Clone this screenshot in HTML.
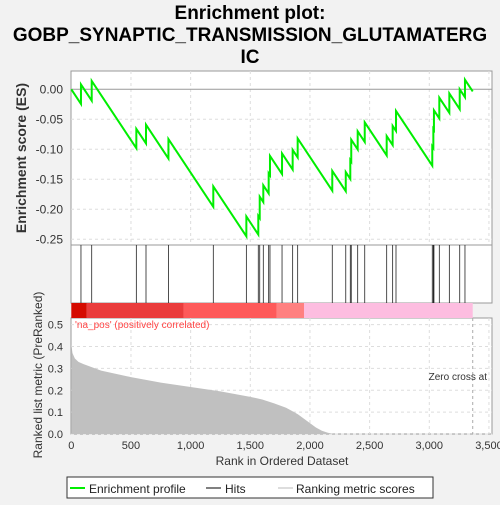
<!DOCTYPE html>
<html><head><meta charset="utf-8"><style>
body{margin:0;background:#f2f2f2;}
svg text{font-family:"Liberation Sans","DejaVu Sans",sans-serif;}
</style></head><body>
<svg id="c" width="500" height="500" viewBox="0 0 500 500" xmlns="http://www.w3.org/2000/svg">
<rect x="0" y="0" width="500" height="500" fill="#f2f2f2"/>
<text x="250" y="19" text-anchor="middle" font-size="19" font-weight="bold" fill="#000">Enrichment plot:</text>
<text x="250" y="41" text-anchor="middle" font-size="19" font-weight="bold" fill="#000">GOBP_SYNAPTIC_TRANSMISSION_GLUTAMATERG</text>
<text x="250" y="63" text-anchor="middle" font-size="19" font-weight="bold" fill="#000">IC</text>
<g id="g"></g>
</svg>
<script>
const hitRanks=[81,171,545,626,814,1190,1467,1567,1579,1609,1654,1665,1766,1855,1897,2187,2300,2338,2346,2400,2459,2643,2693,2721,3025,3034,3039,3084,3168,3255,3299];
const esPeaks=[0.008,0.014,-0.066,-0.059,-0.083,-0.162,-0.212,-0.211,-0.179,-0.160,-0.140,-0.111,-0.107,-0.101,-0.082,-0.136,-0.138,-0.118,-0.084,-0.070,-0.055,-0.078,-0.061,-0.036,-0.095,-0.066,-0.035,-0.014,-0.007,0.000,0.016];
const nGenes=3364;
const metricRanks=[0,10,30,60,100,250,500,750,1000,1250,1500,1600,1700,1800,1850,1900,1950,2000,2050,2100,2150,2200,3364];
const metricVals=[0.41,0.37,0.345,0.33,0.32,0.29,0.26,0.235,0.215,0.195,0.17,0.158,0.14,0.12,0.105,0.09,0.07,0.05,0.03,0.015,0.006,0.0,0.0];
const xTicks=[0,500,1000,1500,2000,2500,3000,3500];
const xTickLabels=["0","500","1,000","1,500","2,000","2,500","3,000","3,500"];
const esTicks=[0,-0.05,-0.1,-0.15,-0.2,-0.25];
const esTickLabels=["0.00","-0.05","-0.10","-0.15","-0.20","-0.25"];
const mTicks=[0,0.1,0.2,0.3,0.4,0.5];
const mTickLabels=["0.0","0.1","0.2","0.3","0.4","0.5"];
const slope=0.0003;

const L=71,R=492;
const X=r=>71.3+r*0.11933;
const YE=v=>89.3-v*600;
const YM=v=>434-v*218.7;
const g=document.getElementById('g');
const NS='http://www.w3.org/2000/svg';
function mk(t,a,p){const e=document.createElementNS(NS,t);for(const k in a)e.setAttribute(k,a[k]);(p||g).appendChild(e);return e;}

// panels
let p1=mk('rect',{x:L,y:71,width:R-L,height:174,fill:'#fff',stroke:'#999'});


let p2=mk('rect',{x:L,y:245,width:R-L,height:58,fill:'#fff',stroke:'#999'});


let p3=mk('rect',{x:L,y:318,width:R-L,height:116,fill:'#fff',stroke:'#999'});



// grids
xTicks.forEach((t,i)=>{
 const x=X(t);
 if(i>0){
 let l=mk('line',{x1:x,y1:71,x2:x,y2:245,stroke:'#ddd','stroke-dasharray':'3,3'});
 
 
 let l2=mk('line',{x1:x,y1:318,x2:x,y2:434,stroke:'#ddd','stroke-dasharray':'3,3'});
 
 
 }
 let tk=mk('text',{x:x,y:449,'text-anchor':'middle','font-size':11,fill:'#333'});
 tk.textContent=xTickLabels[i];
 
 
});
esTicks.forEach((t,i)=>{
 const y=YE(t);
 let l=mk('line',{x1:L,y1:y,x2:R,y2:y,stroke:t===0?'#999':'#ddd','stroke-dasharray':t===0?'':'3,3'});
 
 
 let tk=mk('text',{x:63,y:y+4,'text-anchor':'end','font-size':12,fill:'#333'});
 tk.textContent=esTickLabels[i];
 
 
});
mTicks.forEach((t,i)=>{
 const y=YM(t);
 let l=mk('line',{x1:L,y1:y,x2:R,y2:y,stroke:'#ddd','stroke-dasharray':'3,3'});
 
 
 let tk=mk('text',{x:63,y:y+4,'text-anchor':'end','font-size':11,fill:'#333'});
 tk.textContent=mTickLabels[i];
 
 
});

// metric area
let d='M'+X(0)+','+YM(0);
metricRanks.forEach((r,i)=>{d+=' L'+X(r)+','+YM(metricVals[i]);});
d+=' L'+X(nGenes)+','+YM(0)+' Z';
let area=mk('path',{d:d,fill:'#c0c0c0'});


let zc=mk('line',{x1:X(nGenes),y1:318,x2:X(nGenes),y2:434,stroke:'#aaa','stroke-dasharray':'3,3'});


let zt=mk('text',{x:487,y:380,'text-anchor':'end','font-size':10,fill:'#333'});
zt.textContent='Zero cross at';



// colour bar
const segs=[[0,130,'#d50b00'],[130,940,'#ea3c3c'],[940,1720,'#fe5a5a'],[1720,1950,'#ff8080'],[1950,nGenes,'#fdbde0']];
segs.forEach(s=>{
 let r=mk('rect',{x:X(s[0]),y:303,width:X(s[1])-X(s[0]),height:15,fill:s[2]});
 
 
});
let np=mk('text',{x:75,y:328,'font-size':10,fill:'#f44'});
np.textContent="'na_pos' (positively correlated)";



// hits
hitRanks.forEach(r=>{
 let l=mk('line',{x1:X(r),y1:245,x2:X(r),y2:303,stroke:'#222','stroke-width':0.8});
 
 
});

// ES line
let pts=[[0,0]];let prevR=0,prevE=0;
hitRanks.forEach((r,i)=>{const tr=prevE-slope*(r-prevR);pts.push([r,tr]);pts.push([r,esPeaks[i]]);prevR=r;prevE=esPeaks[i];});
pts.push([nGenes,prevE-slope*(nGenes-prevR)]);
let es=mk('polyline',{points:pts.map(p=>X(p[0])+','+YE(p[1])).join(' '),fill:'none',stroke:'#00ee00','stroke-width':2});



// axis titles
let yt=mk('text',{x:0,y:0,transform:'translate(26,158) rotate(-90)','text-anchor':'middle','font-size':14,'font-weight':'bold',fill:'#333'});
yt.textContent='Enrichment score (ES)';


let yt2=mk('text',{x:0,y:0,transform:'translate(42,375) rotate(-90)','text-anchor':'middle','font-size':12,fill:'#333'});
yt2.textContent='Ranked list metric (PreRanked)';


let xt=mk('text',{x:282,y:465,'text-anchor':'middle','font-size':12,fill:'#333'});
xt.textContent='Rank in Ordered Dataset';



// legend
let lg=mk('rect',{x:67,y:477,width:366,height:21,fill:'#fff',stroke:'#333'});


let l1=mk('line',{x1:70,y1:488,x2:85,y2:488,stroke:'#00ee00','stroke-width':2});


let t1=mk('text',{x:89,y:493,'font-size':12,fill:'#222'});t1.textContent='Enrichment profile';


let l2=mk('line',{x1:206,y1:488,x2:221,y2:488,stroke:'#000','stroke-width':1});


let t2=mk('text',{x:225,y:493,'font-size':12,fill:'#222'});t2.textContent='Hits';


let l3=mk('line',{x1:278,y1:488,x2:293,y2:488,stroke:'#bbb','stroke-width':1});


let t3=mk('text',{x:296,y:493,'font-size':12,fill:'#222'});t3.textContent='Ranking metric scores';


</script>
</body></html>
